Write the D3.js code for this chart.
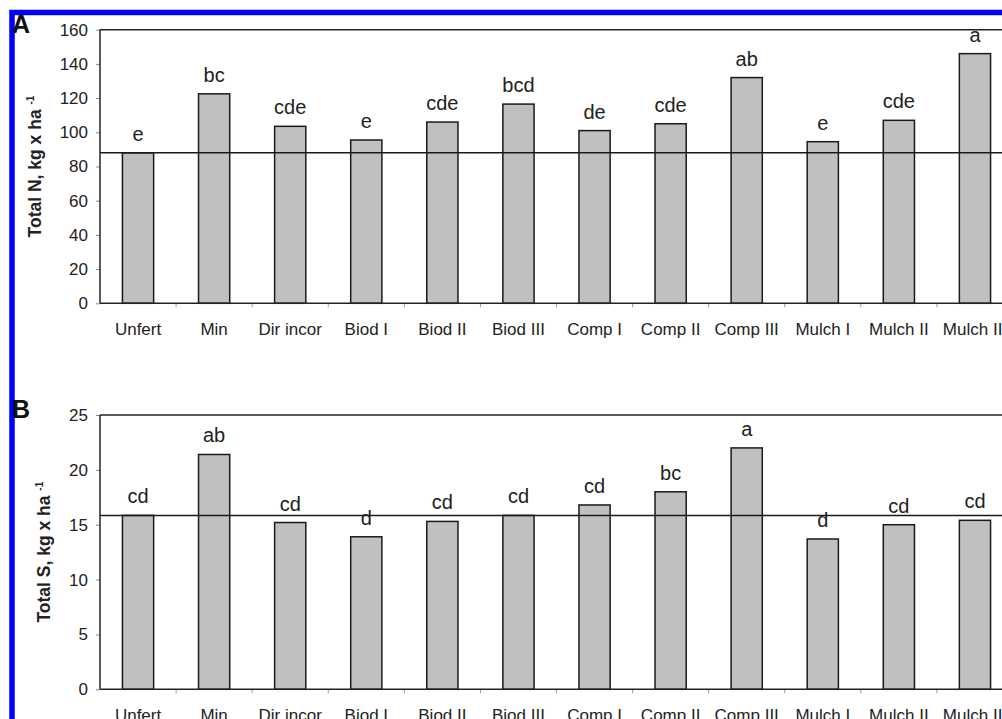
<!DOCTYPE html>
<html>
<head>
<meta charset="utf-8">
<script src="https://cdn.jsdelivr.net/npm/d3@7"></script>
<style>
  html, body { margin: 0; padding: 0; background: #fff; overflow: hidden; }
  svg { display: block; font-family: "Liberation Sans", Arial, sans-serif; }
</style>
</head>
<body>
<svg id="chart" width="1002" height="719"></svg>
<script>
// Treatments (x categories, shared by both panels)
const treatments = ["Unfert", "Min", "Dir incor", "Biod I", "Biod II", "Biod III",
                    "Comp I", "Comp II", "Comp III", "Mulch I", "Mulch II", "Mulch III"];

// Panel A: total N, kg x ha-1
const totalN = [88, 122.5, 103.5, 95.5, 106, 116.5, 101, 105, 132, 94.5, 107, 146];
const lettersN = ["e", "bc", "cde", "e", "cde", "bcd", "de", "cde", "ab", "e", "cde", "a"];
const ticksN = [0, 20, 40, 60, 80, 100, 120, 140, 160];

// Panel B: total S, kg x ha-1
const totalS = [15.85, 21.4, 15.2, 13.9, 15.3, 15.85, 16.8, 18.0, 22.0, 13.7, 15.0, 15.4];
const lettersS = ["cd", "ab", "cd", "d", "cd", "cd", "cd", "bc", "a", "d", "cd", "cd"];
const ticksS = [0, 5, 10, 15, 20, 25];

const svg = d3.select("#chart");

// blue frame around the figure
svg.append("rect")
  .attr("x", 12).attr("y", 12.5)
  .attr("width", 1100).attr("height", 800)
  .attr("fill", "none")
  .attr("stroke", "#0000ff")
  .attr("stroke-width", 5.5);

function panel(opts) {
  const { tag, top, bottom, yMax, ticks, values, letters, title, titleX, tagY } = opts;
  const left = 100, right = 1013;
  const g = svg.append("g");

  const x = d3.scaleBand()
    .domain(treatments)
    .range([left, right])
    .paddingInner(0.59)
    .paddingOuter(0.295);

  const y = d3.scaleLinear().domain([0, yMax]).range([bottom, top]);

  // y axis ticks + labels
  const yAxis = d3.axisLeft(y).tickValues(ticks).tickSize(4).tickPadding(8);
  const ya = g.append("g").attr("transform", `translate(${left},0)`).call(yAxis);
  ya.select(".domain").remove();
  ya.selectAll(".tick line").attr("stroke", "#888").attr("stroke-width", 1);
  ya.selectAll(".tick text")
    .attr("font-size", 17).attr("fill", "#222")
    .attr("font-family", "'Liberation Sans', Arial, sans-serif");

  // x axis category labels
  const xAxis = d3.axisBottom(x).tickSize(0).tickPadding(20);
  const xa = g.append("g").attr("transform", `translate(0,${bottom})`).call(xAxis);
  xa.select(".domain").remove();
  xa.selectAll(".tick text")
    .attr("font-size", 17).attr("fill", "#222")
    .attr("font-family", "'Liberation Sans', Arial, sans-serif");

  // small ticks between categories
  const step = x.step();
  g.append("g").selectAll("line")
    .data(treatments.slice(1))
    .join("line")
    .attr("x1", d => x(d) - (step - x.bandwidth()) / 2)
    .attr("x2", d => x(d) - (step - x.bandwidth()) / 2)
    .attr("y1", bottom).attr("y2", bottom + 4)
    .attr("stroke", "#999").attr("stroke-width", 1);

  // bars
  g.append("g").selectAll("rect")
    .data(values)
    .join("rect")
    .attr("x", (d, i) => x(treatments[i]))
    .attr("y", d => y(d))
    .attr("width", x.bandwidth())
    .attr("height", d => bottom - y(d))
    .attr("fill", "#c0c0c0")
    .attr("stroke", "#1a1a1a")
    .attr("stroke-width", 1.5);

  // frame: top and left edges, baseline
  g.append("line").attr("x1", left).attr("x2", right + 10)
    .attr("y1", top).attr("y2", top)
    .attr("stroke", "#222").attr("stroke-width", 1.5);
  g.append("line").attr("x1", left).attr("x2", left)
    .attr("y1", top).attr("y2", bottom)
    .attr("stroke", "#222").attr("stroke-width", 1.5);
  g.append("line").attr("x1", left).attr("x2", right + 10)
    .attr("y1", bottom).attr("y2", bottom)
    .attr("stroke", "#222").attr("stroke-width", 1.5);

  // reference line at the unfertilized level
  g.append("line").attr("x1", left).attr("x2", right + 10)
    .attr("y1", y(values[0])).attr("y2", y(values[0]))
    .attr("stroke", "#1a1a1a").attr("stroke-width", 1.5);

  // significance letters
  g.append("g").selectAll("text")
    .data(letters)
    .join("text")
    .attr("x", (d, i) => x(treatments[i]) + x.bandwidth() / 2)
    .attr("y", (d, i) => y(values[i]) - 12)
    .attr("text-anchor", "middle")
    .attr("font-size", 20)
    .attr("fill", "#222")
    .text(d => d);

  // axis title
  const t = g.append("text")
    .attr("transform", `translate(${titleX},${(top + bottom) / 2}) rotate(-90)`)
    .attr("text-anchor", "middle")
    .attr("font-size", 17.5)
    .attr("font-weight", "bold")
    .attr("fill", "#222");
  t.append("tspan").text(title + " ");
  t.append("tspan").attr("font-size", 10).attr("dy", -7).text("-1");

  // panel tag
  g.append("text")
    .attr("x", 12).attr("y", tagY)
    .attr("font-size", 25)
    .attr("font-weight", "bold")
    .attr("fill", "#111")
    .text(tag);
}

panel({
  tag: "A", top: 29.7, bottom: 303.3, yMax: 160, ticks: ticksN,
  values: totalN, letters: lettersN, title: "Total N, kg x ha",
  titleX: 40.5, tagY: 32.5
});

panel({
  tag: "B", top: 415, bottom: 689.3, yMax: 25, ticks: ticksS,
  values: totalS, letters: lettersS, title: "Total S, kg x ha",
  titleX: 49.5, tagY: 417.5
});
</script>
</body>
</html>
